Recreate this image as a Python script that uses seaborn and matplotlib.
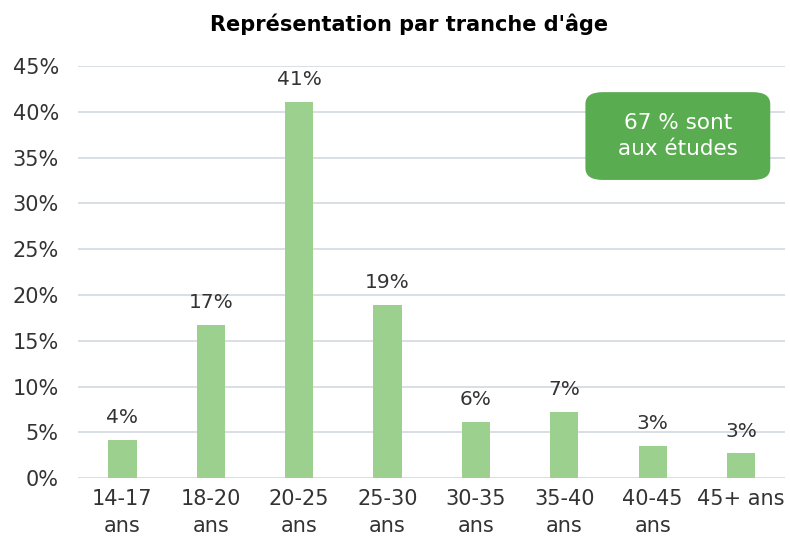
import matplotlib
matplotlib.use("Agg")
import matplotlib.pyplot as plt
import seaborn as sns
import pandas as pd
from matplotlib.patches import FancyBboxPatch
from matplotlib.ticker import PercentFormatter

# tranches d'âge et parts (en %)
categories = ["14-17\nans", "18-20\nans", "20-25\nans", "25-30\nans",
              "30-35\nans", "35-40\nans", "40-45\nans", "45+ ans"]
values = [4.2, 16.7, 41.1, 18.9, 6.1, 7.2, 3.5, 2.7]
labels = ["4%", "17%", "41%", "19%", "6%", "7%", "3%", "3%"]

sns.set_theme(style="white")
plt.rcParams["font.family"] = ["DejaVu Sans"]

df = pd.DataFrame({"tranche": categories, "part": values})

fig = plt.figure(figsize=(7.9, 5.42), dpi=100)
ax = fig.add_axes([0.099, 0.118, 0.895, 0.76])

sns.barplot(data=df, x="tranche", y="part", color="#9bd08e", width=0.32,
            saturation=1, linewidth=0, ax=ax, zorder=3)

for i, (v, lab) in enumerate(zip(values, labels)):
    ax.text(i, v + 1.4, lab, ha="center", va="bottom", fontsize=14.5, color="#333333")

ax.set_ylim(0, 45)
ax.set_xlim(-0.5, 7.5)
ax.set_yticks(range(0, 46, 5))
ax.yaxis.set_major_formatter(PercentFormatter(decimals=0))
ax.grid(axis="y", color="#d3d8e0", linewidth=1.2, zorder=0)
for s in ax.spines.values():
    s.set_visible(False)
ax.tick_params(axis="both", length=0, labelsize=15, labelcolor="#333333")
ax.tick_params(axis="x", pad=8)
ax.tick_params(axis="y", pad=14)
for t in ax.get_xticklabels():
    t.set_linespacing(1.45)
ax.set_xlabel("")
ax.set_ylabel("")

fig.text(0.518, 0.955, "Représentation par tranche d'âge", ha="center", va="center",
         fontsize=15, fontweight="bold", color="#000000")

# encadré vert
box = FancyBboxPatch((0.741, 0.668), 0.234, 0.162, transform=fig.transFigure,
                     boxstyle="round,pad=0,rounding_size=0.022",
                     facecolor="#5aac50", edgecolor="none", zorder=5)
fig.patches.append(box)
fig.text(0.858, 0.749, "67 % sont\naux études", ha="center", va="center",
         fontsize=15.5, color="white", linespacing=1.4, zorder=6)

fig.savefig("out.png", dpi=100)
